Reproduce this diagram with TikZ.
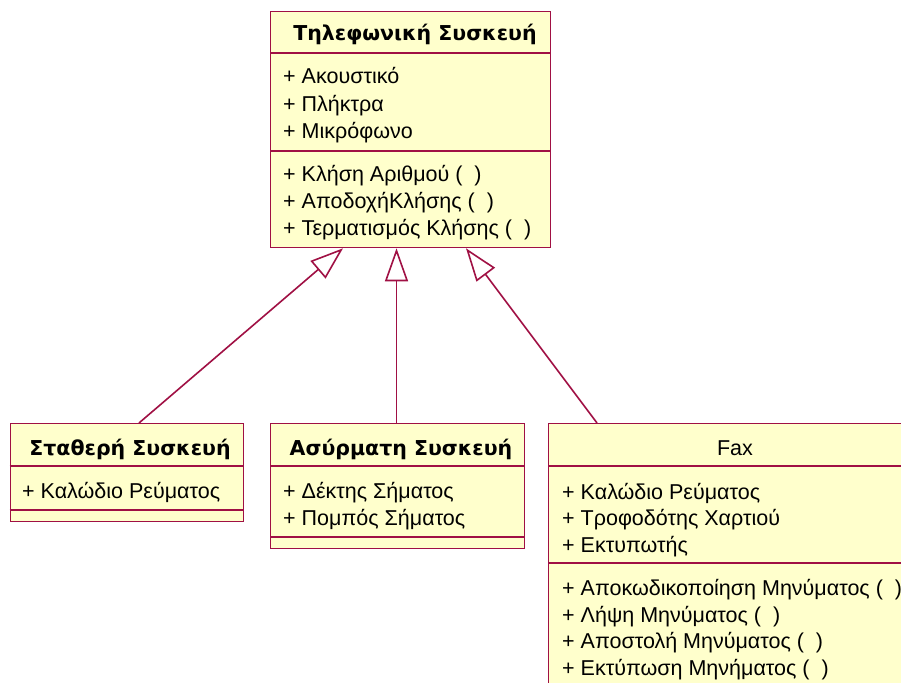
\documentclass[tikz,border=0pt]{standalone}
\usepackage{fontspec}
\setmainfont{Liberation Sans}
\newfontfamily\titlefont{DejaVu Sans}
\usetikzlibrary{arrows.meta,calc}

\definecolor{umlline}{RGB}{160,16,68}
\definecolor{umlfill}{RGB}{255,255,204}

\tikzset{
  classbox/.style={draw=umlline, fill=umlfill, line width=1.3pt, rectangle,
                   anchor=north west, inner sep=0pt},
  divider/.style={draw=umlline, line width=1.3pt},
  member/.style={anchor=base west, inner sep=0pt, text=black,
                 font=\fontsize{21.5}{26}\selectfont},
  cname/.style={anchor=base, inner sep=0pt, text=black,
                font=\titlefont\bfseries\fontsize{20.5}{26}\selectfont},
  cnameplain/.style={anchor=base, inner sep=0pt, text=black,
                font=\fontsize{21.5}{26}\selectfont},
  inherits/.style={draw=umlline, line width=1.6pt,
                   -{Triangle[open, length=33pt, width=23pt, line width=1.6pt]}},
}

\begin{document}
\begin{tikzpicture}[x=1pt, y=-1pt]
  \useasboundingbox (0,0) rectangle (901,682);
  \fill[white] (0,0) rectangle (901,682);
  \clip (0,0) rectangle (901,682);

  % class frames
  \node[classbox, minimum width=280pt, minimum height=236pt] (tel) at (270,11) {};
  \node[classbox, minimum width=233.5pt, minimum height=98pt] (stat) at (9.5,423) {};
  \node[classbox, minimum width=254pt, minimum height=125pt] (asy) at (270,423) {};
  \node[classbox, minimum width=366pt, minimum height=290pt] (fax) at (548,423) {};

  % compartment separators
  \draw[divider] ([yshift=-42pt]tel.north west) -- ([yshift=-42pt]tel.north east);
  \draw[divider] ([yshift=-140pt]tel.north west) -- ([yshift=-140pt]tel.north east);
  \draw[divider] ([yshift=-43pt]stat.north west) -- ([yshift=-43pt]stat.north east);
  \draw[divider] ([yshift=-87pt]stat.north west) -- ([yshift=-87pt]stat.north east);
  \draw[divider] ([yshift=-43pt]asy.north west) -- ([yshift=-43pt]asy.north east);
  \draw[divider] ([yshift=-114pt]asy.north west) -- ([yshift=-114pt]asy.north east);
  \draw[divider] ([yshift=-43pt]fax.north west) -- ([yshift=-43pt]fax.north east);
  \draw[divider] ([yshift=-140pt]fax.north west) -- ([yshift=-140pt]fax.north east);

  % Τηλεφωνική Συσκευή
  \node[cname] (telname) at (415,41) {Τηλεφωνική Συσκευή};
  \node[member] (tela1) at (283,84) {+ Ακουστικό};
  \node[member] (tela2) at (283,111) {+ Πλήκτρα};
  \node[member] (tela3) at (283,138) {+ Μικρόφωνο};
  \node[member] (telm1) at (283,181) {+ Κλήση Αριθμού ( \ )};
  \node[member] (telm2) at (283,208) {+ ΑποδοχήΚλήσης ( \ )};
  \node[member] (telm3) at (283,235) {+ Τερματισμός Κλήσης ( \ )};

  % Σταθερή Συσκευή
  \node[cname] (statname) at (130,455) {Σταθερή Συσκευή};
  \node[member] (stata1) at (22,498) {+ Καλώδιο Ρεύματος};

  % Ασύρματη Συσκευή
  \node[cname] (asyname) at (401,455) {Ασύρματη Συσκευή};
  \node[member] (asya1) at (283,498) {+ Δέκτης Σήματος};
  \node[member] (asya2) at (283,525) {+ Πομπός Σήματος};

  % Fax
  \node[cnameplain] (faxname) at (735,455) {Fax};
  \node[member] (faxa1) at (562,499) {+ Καλώδιο Ρεύματος};
  \node[member] (faxa2) at (562,525) {+ Τροφοδότης Χαρτιού};
  \node[member] (faxa3) at (562,552) {+ Εκτυπωτής};
  \node[member] (faxm1) at (562,595) {+ Αποκωδικοποίηση Μηνύματος ( \ )};
  \node[member] (faxm2) at (562,622) {+ Λήψη Μηνύματος ( \ )};
  \node[member] (faxm3) at (562,648) {+ Αποστολή Μηνύματος ( \ )};
  \node[member] (faxm4) at (562,675) {+ Εκτύπωση Μηνήματος ( \ )};

  % generalisation arrows
  \coordinate (tipL) at ([xshift=73pt]tel.south west);
  \coordinate (tipM) at ([xshift=126.5pt]tel.south west);
  \coordinate (tipR) at ([xshift=196pt]tel.south west);
  \coordinate (footL) at ([xshift=129.5pt]stat.north west);
  \coordinate (footM) at ([xshift=126.5pt]asy.north west);
  \coordinate (footR) at ([xshift=49pt]fax.north west);
  \draw[inherits] (footL) -- (tipL);
  \draw[inherits] (footM) -- (tipM);
  \draw[inherits] (footR) -- (tipR);
\end{tikzpicture}
\end{document}
